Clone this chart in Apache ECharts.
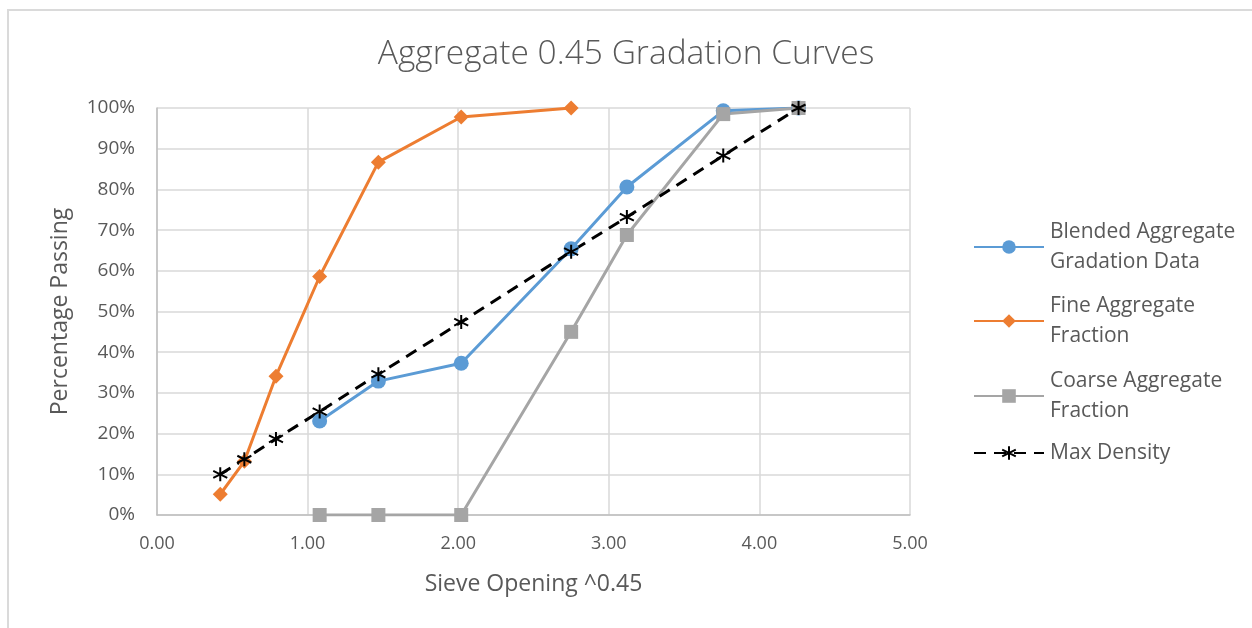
<!DOCTYPE html>
<html>
<head>
<meta charset="utf-8">
<title>Aggregate 0.45 Gradation Curves</title>
<script src="https://cdn.jsdelivr.net/npm/echarts@6/dist/echarts.min.js"></script>
<style>
  html, body { margin: 0; padding: 0; background: #fff; overflow: hidden; }
  #frame {
    position: absolute; left: 7px; top: 9px; width: 1260px; height: 640px;
    border-top: 2px solid #dadada; border-left: 2px solid #dadada;
  }
  #chart { position: absolute; left: 0; top: 0; width: 1252px; height: 628px; }
</style>
</head>
<body>
<div id="frame"></div>
<div id="chart"></div>
<script>
// sieve openings raised to the 0.45 power (x axis)
const sieveX = [0.42, 0.58, 0.79, 1.08, 1.47, 2.02, 2.75, 3.12, 3.76, 4.26];

// percentage passing per sieve (null = not plotted)
const blendedPassing = [null, null, null, 23.1, 32.9, 37.3, 65.4, 80.6, 99.3, 100];
const finePassing = [5.1, 13.2, 34.1, 58.6, 86.7, 97.8, 100, null, null, null];
const coarsePassing = [null, null, null, 0, 0, 0, 45.0, 68.8, 98.5, 100];
const maxDensity = [10.0, 13.7, 18.7, 25.4, 34.6, 47.4, 64.7, 73.2, 88.3, 100];

const xTicks = { min: 0, max: 5, interval: 1 };
const yTicks = { min: 0, max: 100, interval: 10 };

const seriesNames = [
  'Blended Aggregate Gradation Data',
  'Fine Aggregate Fraction',
  'Coarse Aggregate Fraction',
  'Max Density'
];
const legendLabels = {
  'Blended Aggregate Gradation Data': 'Blended Aggregate\nGradation Data',
  'Fine Aggregate Fraction': 'Fine Aggregate\nFraction',
  'Coarse Aggregate Fraction': 'Coarse Aggregate\nFraction',
  'Max Density': 'Max Density'
};

const TEXT = '#595959';
const FONT = '"Open Sans", "Liberation Sans", sans-serif';

function pairs(values) {
  const out = [];
  values.forEach((v, i) => {
    if (v !== null) out.push([sieveX[i], v]);
  });
  return out;
}

const starPath = 'path://M5,0 L5,10 M0.7,2.5 L9.3,7.5 M0.7,7.5 L9.3,2.5';

const chart = echarts.init(document.getElementById('chart'), null, { renderer: 'canvas' });

// one legend block per series so two-line labels line up with their icon
const legendTops = [202, 276, 351, 438];
const legends = seriesNames.map((name, i) => {
  const twoLine = legendLabels[name].indexOf('\n') >= 0;
  return {
    data: [name],
    left: 973,
    top: legendTops[i],
    padding: 0,
    orient: 'vertical',
    itemWidth: 70,
    itemHeight: 17,
    itemGap: 0,
    selectedMode: false,
    formatter: (n) => legendLabels[n],
    textStyle: {
      color: TEXT,
      fontFamily: FONT,
      fontSize: 21,
      lineHeight: 30,
      padding: twoLine ? [30, 0, 0, 1] : [0, 0, 0, 1]
    }
  };
});

const option = {
  animation: false,
  backgroundColor: 'transparent',
  title: {
    text: 'Aggregate 0.45 Gradation Curves',
    left: 'center',
    top: 32,
    textStyle: {
      color: TEXT,
      fontFamily: FONT,
      fontSize: 33.5,
      fontWeight: 300
    }
  },
  legend: legends,
  grid: {
    left: 157,
    right: 342,
    top: 108,
    bottom: 113
  },
  xAxis: {
    type: 'value',
    min: xTicks.min,
    max: xTicks.max,
    interval: xTicks.interval,
    name: 'Sieve Opening ^0.45',
    nameLocation: 'middle',
    nameGap: 58,
    nameTextStyle: { color: TEXT, fontFamily: FONT, fontSize: 23 },
    axisLine: { lineStyle: { color: '#bfbfbf', width: 1.5 } },
    axisTick: { show: false },
    axisLabel: {
      color: TEXT,
      fontFamily: FONT,
      fontSize: 18,
      margin: 20,
      formatter: (v) => v.toFixed(2)
    },
    splitLine: { lineStyle: { color: '#d9d9d9', width: 1.5 } }
  },
  yAxis: {
    type: 'value',
    min: yTicks.min,
    max: yTicks.max,
    interval: yTicks.interval,
    name: 'Percentage Passing',
    nameLocation: 'middle',
    nameGap: 85,
    nameTextStyle: { color: TEXT, fontFamily: FONT, fontSize: 23 },
    axisLine: { show: true, lineStyle: { color: '#bfbfbf', width: 1.5 } },
    axisTick: { show: false },
    axisLabel: {
      color: TEXT,
      fontFamily: FONT,
      fontSize: 19,
      margin: 22,
      formatter: '{value}%'
    },
    splitLine: { lineStyle: { color: '#d9d9d9', width: 1.5 } }
  },
  series: [
    {
      name: seriesNames[0],
      type: 'line',
      data: pairs(blendedPassing),
      symbol: 'circle',
      symbolSize: 15,
      showAllSymbol: true,
      lineStyle: { color: '#5b9bd5', width: 3 },
      itemStyle: { color: '#5b9bd5' }
    },
    {
      name: seriesNames[1],
      type: 'line',
      data: pairs(finePassing),
      symbol: 'diamond',
      symbolSize: 15,
      showAllSymbol: true,
      lineStyle: { color: '#ed7d31', width: 3 },
      itemStyle: { color: '#ed7d31' }
    },
    {
      name: seriesNames[2],
      type: 'line',
      data: pairs(coarsePassing),
      symbol: 'rect',
      symbolSize: 14,
      showAllSymbol: true,
      lineStyle: { color: '#a5a5a5', width: 3 },
      itemStyle: { color: '#a5a5a5' }
    },
    {
      name: seriesNames[3],
      type: 'line',
      data: pairs(maxDensity),
      symbol: starPath,
      symbolSize: 14,
      showAllSymbol: true,
      lineStyle: { color: '#000000', width: 3, type: [12, 8] },
      itemStyle: { color: '#000000', borderColor: '#000000', borderWidth: 2 }
    }
  ]
};

chart.setOption(option);
window.addEventListener('resize', () => chart.resize());
</script>
</body>
</html>
